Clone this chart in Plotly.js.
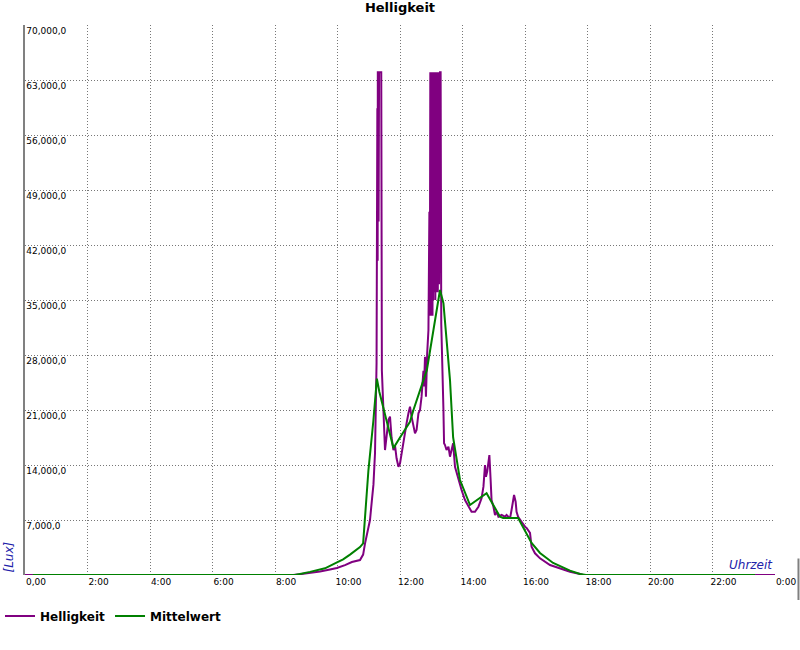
<!DOCTYPE html>
<html><head><meta charset="utf-8">
<script src="https://cdn.plot.ly/plotly-3.0.1.min.js"></script>
<style>html,body{margin:0;padding:0;background:#fff}#chart{width:800px;height:650px}</style>
</head><body><div id="chart"></div>
<script>
// Helligkeit (raw brightness) — time in hours, value in lux
const helligkeitTime = [0, 8.58, 8.80, 9.12, 9.44, 9.76, 9.98, 10.24, 10.46, 10.72, 10.82, 10.88, 10.94, 11.04, 11.10, 11.15, 11.20, 11.25,
  11.275, 11.285, 11.29, 11.30, 11.315, 11.33, 11.40, 11.42, 11.47, 11.49, 11.52, 11.57, 11.63, 11.68, 11.73, 11.79, 11.84, 11.89, 11.95,
  12.00, 12.05, 12.11, 12.16, 12.21, 12.27, 12.32, 12.37, 12.43, 12.48, 12.53, 12.59, 12.64, 12.69, 12.75, 12.77, 12.80, 12.83, 12.87, 12.91,
  12.94, 12.955,
  12.97, 12.98, 12.99, 13.00, 13.01, 13.02, 13.03, 13.04, 13.05, 13.06, 13.07, 13.08, 13.09, 13.10, 13.11, 13.12, 13.13,
  13.14, 13.15, 13.16, 13.17, 13.18, 13.19, 13.20, 13.21, 13.22, 13.23, 13.24, 13.25, 13.26, 13.27, 13.28, 13.29, 13.30,
  13.32, 13.37, 13.39, 13.41, 13.44, 13.49, 13.55, 13.60, 13.65, 13.70, 13.76, 13.87, 13.97, 14.08, 14.19,
  14.29, 14.40, 14.51, 14.61, 14.67, 14.72, 14.75, 14.79, 14.86, 14.90, 14.93, 14.99, 15.04, 15.09, 15.15, 15.25, 15.36, 15.41, 15.52,
  15.57, 15.65, 15.70, 15.73, 15.78, 15.84, 15.89, 16.00, 16.05, 16.16, 16.21, 16.32, 16.48, 16.80, 17.12, 17.44, 17.76, 17.86, 24];
const helligkeitLux = [0, 0, 100, 250, 450, 700, 890, 1250, 1650, 1900, 2600, 4000, 5000, 7000, 9500, 11500, 15500, 27000,
  59400, 40000, 64000, 64000, 45000, 64000, 64000, 26000, 21900, 19500, 15900, 17600, 19730, 20150, 17500, 15900, 16500, 14850, 13780,
  14210, 15490, 16760, 18500, 19300, 20580, 21420, 20150, 18870, 18030, 18450, 20580, 21000, 22700, 26000, 24000, 27780, 22700, 28220, 31180,
  46240, 33000,
  64000, 33000, 64000, 60700, 64000, 34000, 64000, 33000, 64000, 35000, 64000, 57500, 40000, 64000, 36000, 64000, 35000,
  64000, 37000, 64000, 36000, 64000, 38000, 64000, 36000, 64000, 39000, 64000, 37000, 64000, 40000, 64000, 64000, 64000,
  32000, 26090, 21000, 16760, 16540, 15900, 16330, 15060, 16000, 16760, 13780, 12090, 10820, 9545, 8690,
  8050, 8050, 8690, 9760, 11240, 14000, 12510, 13150, 15270, 12090, 9545, 8690, 7640, 8050, 7420, 7640, 7420, 7640, 7210,
  8270, 10180, 9330, 8050, 7420, 7000, 6780, 6150, 6000, 5350, 3600, 2760, 2120, 1270, 850, 420, 130, 0, 0];

// Mittelwert (average)
const mittelTime = [0.25, 8.64, 9.12, 9.60, 10.00, 10.18, 10.40, 10.72, 10.82, 10.88, 10.99, 11.15, 11.26, 11.34, 11.73, 11.79, 12.00,
  12.32, 12.43, 12.86, 13.07, 13.28, 13.39, 13.60, 13.70, 13.92, 14.24, 14.77, 15.20, 15.30, 15.78, 16.21, 16.48, 16.90, 17.44, 17.76, 17.95, 23.36];
const mittelLux = [0, 0, 400, 850, 1650, 2000, 2600, 3560, 4030, 7850, 13360, 19730, 25000, 23300, 16970, 16150, 17500,
  19500, 21000, 26100, 31180, 36270, 34600, 24800, 17500, 12090, 8900, 10400, 7420, 7250, 7250, 4070, 2800, 1530, 550, 130, 0, 0];

const xTickVals = [0, 2, 4, 6, 8, 10, 12, 14, 16, 18, 20, 22, 24];
const xTickText = ['0,00', '2:00', '4:00', '6:00', '8:00', '10:00', '12:00', '14:00', '16:00', '18:00', '20:00', '22:00', '0:00'];
const yTickVals = [0, 7000, 14000, 21000, 28000, 35000, 42000, 49000, 56000, 63000, 70000];
const yTickText = ['', '7,000,0', '14,000,0', '21,000,0', '28,000,0', '35,000,0', '42,000,0', '49,000,0', '56,000,0', '63,000,0', '70,000,0'];

const seriesNames = ['Helligkeit', 'Mittelwert'];
const seriesColors = ['#800080', '#008000'];

const traces = [
  {x: helligkeitTime, y: helligkeitLux, name: seriesNames[0], type: 'scatter', mode: 'lines',
   line: {color: seriesColors[0], width: 2}},
  {x: mittelTime, y: mittelLux, name: seriesNames[1], type: 'scatter', mode: 'lines',
   line: {color: seriesColors[1], width: 2}}
];

const font = 'DejaVu Sans, Verdana, sans-serif';
const layout = {
  width: 800, height: 650,
  margin: {l: 25, r: 25, t: 25, b: 75, autoexpand: false},
  paper_bgcolor: '#ffffff', plot_bgcolor: '#ffffff',
  title: {text: 'Helligkeit', font: {family: font, size: 13, color: '#000', weight: 'bold'},
          x: 0.5, xanchor: 'center', y: 0.988, yanchor: 'middle', yref: 'container'},
  showlegend: true,
  legend: {orientation: 'h', xref: 'container', yref: 'container', x: 0, xanchor: 'left', y: 0.0523, yanchor: 'middle',
           font: {family: font, size: 12, color: '#000', weight: 'bold'}, itemwidth: 30,
           bgcolor: 'rgba(0,0,0,0)'},
  xaxis: {range: [0, 24], tickmode: 'array', tickvals: xTickVals, ticktext: xTickText, automargin: false,
          showgrid: true, gridcolor: '#777777', griddash: '1px,2px', gridwidth: 1,
          zeroline: false, showline: false, ticks: '', ticklabelshift: 11, ticklabeloverflow: 'allow',
          tickfont: {family: font, size: 9, color: '#000'}, fixedrange: true},
  yaxis: {range: [0, 70000], tickmode: 'array', tickvals: yTickVals, ticktext: yTickText, automargin: false,
          showgrid: true, gridcolor: '#777777', griddash: '1px,2px', gridwidth: 1,
          zeroline: false, showline: true, linecolor: '#808080', linewidth: 2, ticks: '',
          ticklabelposition: 'inside', ticklabelshift: 6, ticklabeloverflow: 'allow',
          tickfont: {family: font, size: 9, color: '#000'}, fixedrange: true},
  shapes: [
    {type: 'line', xref: 'paper', yref: 'paper', x0: 1.0313, x1: 1.0313, y0: 0.03, y1: -0.0455,
     line: {color: '#808080', width: 2}}
  ],
  annotations: [
    {text: 'Uhrzeit', xref: 'paper', yref: 'paper', x: 1, y: 0, xanchor: 'right', yanchor: 'bottom',
     yshift: 1, showarrow: false, font: {family: font, size: 12, color: '#2222aa', style: 'italic'}},
    {text: '[Lux]', xref: 'paper', yref: 'paper', x: 0, y: 0, xanchor: 'center', yanchor: 'bottom',
     xshift: -17, textangle: -90, showarrow: false, font: {family: font, size: 12, color: '#2222aa', style: 'italic'}}
  ],
  hovermode: false
};

Plotly.newPlot('chart', traces, layout, {displayModeBar: false, staticPlot: true});
</script>
</body></html>
